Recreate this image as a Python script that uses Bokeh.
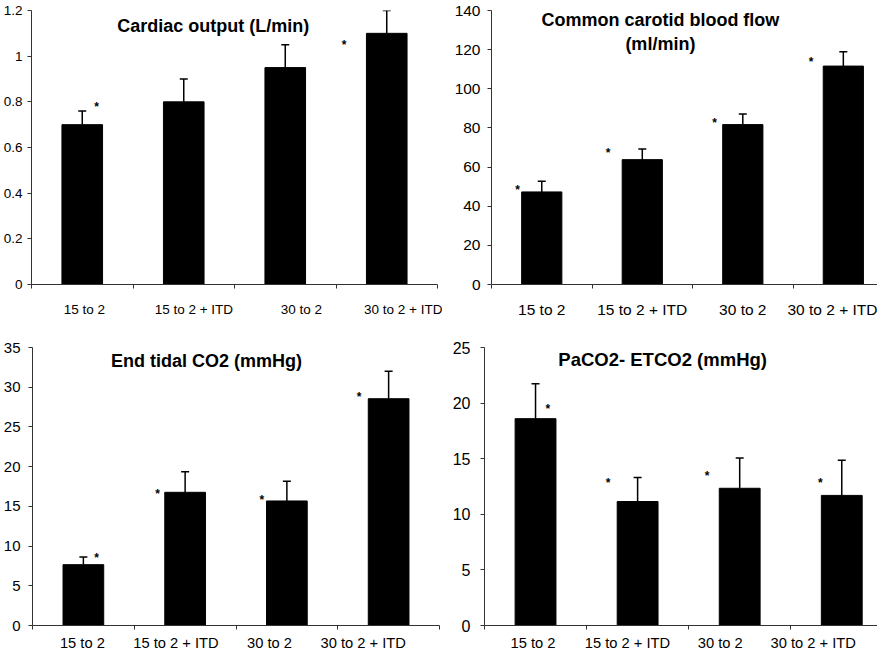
from bokeh.plotting import figure
from bokeh.layouts import column, row
from bokeh.models import Range1d, FixedTicker, Whisker, TeeHead, ColumnDataSource
from bokeh.core.properties import value
from bokeh.embed import file_html
from bokeh.resources import INLINE

# ---------------- data ----------------
categories = ["15 to 2", "15 to 2 + ITD", "30 to 2", "30 to 2 + ITD"]

co_mean = [0.70, 0.80, 0.95, 1.10]
co_err = [0.06, 0.10, 0.10, 0.10]
co_star_cat = [0, 3]
co_star_dx = [0.14, -0.42]
co_star_y = [0.81, 1.08]
co_yticks = [0, 0.2, 0.4, 0.6, 0.8, 1, 1.2]
co_ylabels = ["0", "0.2", "0.4", "0.6", "0.8", "1", "1.2"]

cc_mean = [47.3, 63.8, 81.7, 111.6]
cc_err = [5.4, 5.4, 5.4, 7.3]
cc_star_cat = [0, 1, 2, 3]
cc_star_dx = [-0.24, -0.34, -0.28, -0.32]
cc_star_y = [51.8, 70.9, 86.1, 117.2]
cc_yticks = [0, 20, 40, 60, 80, 100, 120, 140]
cc_ylabels = ["0", "20", "40", "60", "80", "100", "120", "140"]

et_mean = [7.66, 16.77, 15.68, 28.55]
et_err = [0.97, 2.58, 2.47, 3.45]
et_star_cat = [0, 1, 2, 3]
et_star_dx = [0.13, -0.27, -0.245, -0.29]
et_star_y = [9.4, 17.5, 16.65, 29.6]
et_yticks = [0, 5, 10, 15, 20, 25, 30, 35]
et_ylabels = ["0", "5", "10", "15", "20", "25", "30", "35"]

pe_mean = [18.6, 11.15, 12.34, 11.7]
pe_err = [3.15, 2.15, 2.72, 3.15]
pe_star_cat = [0, 1, 2, 3]
pe_star_dx = [0.12, -0.29, -0.32, -0.21]
pe_star_y = [20.1, 13.4, 14.1, 13.4]
pe_yticks = [0, 5, 10, 15, 20, 25]
pe_ylabels = ["0", "5", "10", "15", "20", "25"]

FONT = "Liberation Sans"
AXIS_COLOR = "#333333"


def panel(mean, err, star_cat, star_dx, star_y, yticks, ylabels, title_lines,
          title_x, title_ys, title_size, width, height, x_end, borders,
          label_pos, xlabel_size, ylabel_size, xstandoff, ystandoff):
    left, right, top, bottom = borders
    p = figure(width=width, height=height,
               x_range=Range1d(0, x_end), y_range=Range1d(0, yticks[-1]),
               output_backend="svg", toolbar_location=None,
               min_border_left=left, min_border_right=right,
               min_border_top=top, min_border_bottom=bottom)
    p.outline_line_color = None
    p.xgrid.visible = False
    p.ygrid.visible = False
    p.background_fill_color = "white"
    p.border_fill_color = "white"

    xs = [i + 0.5 for i in range(len(categories))]
    src = ColumnDataSource(dict(
        x=xs, top=mean, upper=[m + e for m, e in zip(mean, err)]))
    p.vbar(x="x", top="top", bottom=0, width=0.4, source=src,
           fill_color="black", line_color="black", line_width=1)
    wh = Whisker(source=src, base="x", lower="top", upper="upper",
                 dimension="height", line_width=1.5, line_color="black",
                 upper_head=TeeHead(size=8, line_width=1.5, line_color="black"),
                 lower_head=None)
    p.add_layout(wh)

    sx = [star_cat[i] + 0.5 + star_dx[i] for i in range(len(star_cat))]
    p.text(x=sx, y=star_y, text=["*"] * len(sx), text_font=value(FONT),
           text_font_size="12px", text_font_style="bold", text_align="center",
           text_baseline="alphabetic", y_offset=7, text_color="black")

    p.text(x=[title_x] * len(title_lines), y=title_ys, text=title_lines,
           text_font=value(FONT), text_font_style="bold",
           text_font_size=title_size, text_align="center",
           text_baseline="middle", text_color="black")

    ax = p.xaxis[0]
    ax.ticker = FixedTicker(ticks=label_pos, minor_ticks=[0, 1, 2, 3, 4])
    ax.major_label_overrides = {pos: c for pos, c in zip(label_pos, categories)}
    ax.major_tick_out = 0
    ax.major_tick_in = 0
    ax.minor_tick_out = 4
    ax.minor_tick_in = 0
    ax.axis_line_color = AXIS_COLOR
    ax.minor_tick_line_color = AXIS_COLOR
    ax.major_label_text_font = FONT
    ax.major_label_text_font_size = xlabel_size
    ax.major_label_text_color = "black"
    ax.major_label_standoff = xstandoff

    ay = p.yaxis[0]
    ay.ticker = FixedTicker(ticks=yticks, minor_ticks=[])
    ay.major_label_overrides = {t: l for t, l in zip(yticks, ylabels)}
    ay.major_tick_out = 4
    ay.major_tick_in = 0
    ay.minor_tick_out = 0
    ay.minor_tick_in = 0
    ay.axis_line_color = AXIS_COLOR
    ay.major_tick_line_color = AXIS_COLOR
    ay.major_label_text_font = FONT
    ay.major_label_text_font_size = ylabel_size
    ay.major_label_text_color = "black"
    ay.major_label_standoff = ystandoff
    return p


p1 = panel(co_mean, co_err, co_star_cat, co_star_dx, co_star_y, co_yticks, co_ylabels,
           ["Cardiac output (L/min)"], 1.79, [1.134], "18px",
           442, 320, 4.0, (27, 5, 10, 36),
           [0.52, 1.60, 2.66, 3.74], "13.5px", "13.5px", 13, 5)

p2 = panel(cc_mean, cc_err, cc_star_cat, cc_star_dx, cc_star_y, cc_yticks, cc_ylabels,
           ["Common carotid blood flow", "(ml/min)"], 1.68, [134.9, 122.8], "18px",
           435, 320, 3.84, (49, 0, 8, 36),
           [0.5, 1.5, 2.5, 3.5], "15.5px", "15.5px", 12, 7)

p3 = panel(et_mean, et_err, et_star_cat, et_star_dx, et_star_y, et_yticks, et_ylabels,
           ["End tidal CO2 (mmHg)"], 1.71, [33.3], "18px",
           442, 333, 4.0, (28, 3, 21, 23),
           [0.49, 1.41, 2.33, 3.25], "14.7px", "15px", 5, 8)

p4 = panel(pe_mean, pe_err, pe_star_cat, pe_star_dx, pe_star_y, pe_yticks, pe_ylabels,
           ["PaCO2- ETCO2 (mmHg)"], 1.745, [23.9], "18.5px",
           435, 333, 3.85, (42, 0, 27, 23),
           [0.475, 1.40, 2.31, 3.22], "14.7px", "16px", 5, 10)

layout = column(row(p1, p2), row(p3, p4))

open("out.html", "w").write(file_html(layout, INLINE))
